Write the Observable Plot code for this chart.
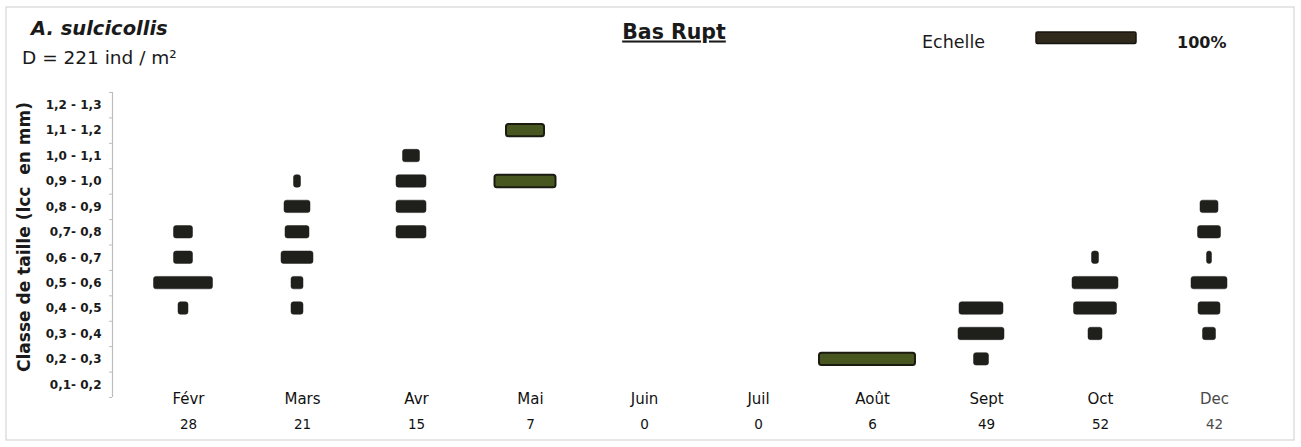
<!DOCTYPE html>
<html><head><meta charset="utf-8">
<script src="https://cdn.jsdelivr.net/npm/d3@7"></script>
<script src="https://cdn.jsdelivr.net/npm/@observablehq/plot@0.6"></script>
<style>
body{margin:0;background:#fff;}
#wrap{position:relative;width:1301px;height:447px;overflow:hidden;}
#wrap svg{position:absolute;left:0;top:0;}
</style></head><body>
<div id="wrap"></div>
<script>
// ---- data ----
const months = ["Févr","Mars","Avr","Mai","Juin","Juil","Août","Sept","Oct","Dec"];
const counts = [28, 21, 15, 7, 0, 0, 6, 49, 52, 42];
const classLabels = ["0,1- 0,2","0,2 - 0,3","0,3 - 0,4","0,4 - 0,5","0,5 - 0,6","0,6 - 0,7",
                     "0,7- 0,8","0,8 - 0,9","0,9 - 1,0","1,0 - 1,1","1,1 - 1,2","1,2 - 1,3"];
const classLow = [0.1,0.2,0.3,0.4,0.5,0.6,0.7,0.8,0.9,1.0,1.1,1.2];
// bars: month, size class, percentage of individuals
const barMonth = ["Févr","Févr","Févr","Févr",
                  "Mars","Mars","Mars","Mars","Mars","Mars",
                  "Avr","Avr","Avr","Avr",
                  "Mai","Mai",
                  "Août",
                  "Sept","Sept","Sept",
                  "Oct","Oct","Oct","Oct",
                  "Dec","Dec","Dec","Dec","Dec","Dec"];
const barClass = ["0,4 - 0,5","0,5 - 0,6","0,6 - 0,7","0,7- 0,8",
                  "0,4 - 0,5","0,5 - 0,6","0,6 - 0,7","0,7- 0,8","0,8 - 0,9","0,9 - 1,0",
                  "0,7- 0,8","0,8 - 0,9","0,9 - 1,0","1,0 - 1,1",
                  "0,9 - 1,0","1,1 - 1,2",
                  "0,2 - 0,3",
                  "0,2 - 0,3","0,3 - 0,4","0,4 - 0,5",
                  "0,3 - 0,4","0,4 - 0,5","0,5 - 0,6","0,6 - 0,7",
                  "0,3 - 0,4","0,4 - 0,5","0,5 - 0,6","0,6 - 0,7","0,7- 0,8","0,8 - 0,9"];
const barPct   = [10, 59, 19, 19,
                  12, 12, 32, 24, 26, 7,
                  30, 30, 30, 17,
                  61, 38,
                  96,
                  15, 46, 44,
                  14, 43, 46, 7,
                  13, 22, 36, 5, 23, 18];
const oliveMonths = ["Mai","Août"];

// ---- build ----
const bars = barMonth.map((m, i) => {
  const k = classLabels.indexOf(barClass[i]);
  return {month: m, lo: classLow[k], hi: classLow[k] + 0.1, pct: barPct[i]};
});
const boundaries = classLow.concat([1.3]).map(v => ({m: "Févr", v}));
const yLabels = classLabels.map((t, i) => ({m: "Févr", t, v: classLow[i] + 0.05}));

const FONT = "DejaVu Sans";
const chart = Plot.plot({
  width: 1301, height: 447,
  marginTop: 92, marginBottom: 50, marginLeft: 126, marginRight: 35,
  style: {fontFamily: FONT, background: "transparent", color: "#111"},
  fx: {domain: months, padding: 0, axis: null},
  x: {domain: [-57, 57], axis: null},
  y: {domain: [0.1, 1.3], axis: null},
  marks: [
    Plot.ruleX([{m: "Févr"}], {fx: "m", x: -57, dx: -14, y1: 0.1, y2: 1.3, stroke: "#bdbdbd", strokeWidth: 1.2}),
    Plot.ruleY(boundaries, {fx: "m", y: "v", x1: -60, x2: -57, dx: -14, stroke: "#bdbdbd"}),
    Plot.text(yLabels, {fx: "m", x: -57, dx: -25, y: "v", text: "t", textAnchor: "end",
      fontWeight: "bold", fontSize: 12, fill: "#1a1a1a"}),
    Plot.rect(bars, {fx: "month", x1: d => -d.pct / 2, x2: d => d.pct / 2, y1: "lo", y2: "hi",
      insetTop: 6.5, insetBottom: 6.5, rx: 2.5,
      fill: d => oliveMonths.includes(d.month) ? "#48561f" : "#1f1f1b",
      stroke: d => oliveMonths.includes(d.month) ? "#1b1b12" : "#1f1f1b",
      strokeWidth: d => oliveMonths.includes(d.month) ? 2 : 0.5}),
    Plot.text(months, {fx: d => d, x: 0, dx: 5, frameAnchor: "bottom", dy: 6, fontSize: 15,
      fill: d => d === "Dec" ? "#4a4a4a" : "#111"}),
    Plot.text(counts, {fx: (d, i) => months[i], x: 0, dx: 5, frameAnchor: "bottom", dy: 31, fontSize: 13.5,
      fill: (d, i) => months[i] === "Dec" ? "#4a4a4a" : "#111"})
  ]
});
document.getElementById("wrap").appendChild(chart);

// ---- annotations overlay ----
const xs = chart.scale("x");
const legendW = xs.apply(50) - xs.apply(-50);
const ov = d3.select("#wrap").append("svg")
  .attr("width", 1301).attr("height", 447)
  .style("font-family", FONT).style("pointer-events", "none");
ov.append("rect").attr("x", 6).attr("y", 7).attr("width", 1288).attr("height", 433)
  .attr("fill", "none").attr("stroke", "#d6d6d6").attr("stroke-width", 1.2);
ov.append("text").attr("x", 31).attr("y", 34.5).text("A. sulcicollis")
  .attr("font-size", 19.5).attr("font-weight", "bold").attr("font-style", "italic").attr("fill", "#1a1a1a");
ov.append("text").attr("x", 22).attr("y", 64).text("D = 221 ind / m²")
  .attr("font-size", 18.5).attr("fill", "#1a1a1a");
ov.append("text").attr("x", 674).attr("y", 38.5).text("Bas Rupt")
  .attr("text-anchor", "middle").attr("font-size", 20.5).attr("font-weight", "bold")
  .attr("text-decoration", "underline").attr("fill", "#1a1a1a");
ov.append("text").attr("x", 922).attr("y", 48).text("Echelle")
  .attr("font-size", 17.5).attr("fill", "#1a1a1a");
ov.append("rect").attr("x", 1036).attr("y", 32).attr("width", legendW).attr("height", 11.5)
  .attr("rx", 1.5).attr("fill", "#2f2a1c").attr("stroke", "#16140e").attr("stroke-width", 1.5);
ov.append("text").attr("x", 1177).attr("y", 48).text("100%")
  .attr("font-size", 16).attr("font-weight", "bold").attr("fill", "#1a1a1a");
ov.append("text").attr("transform", "translate(30,237) rotate(-90)")
  .attr("text-anchor", "middle").attr("font-size", 17).attr("font-weight", "bold")
  .attr("fill", "#1a1a1a").style("white-space", "pre").text("Classe de taille (lcc  en mm)");
</script>
</body></html>
